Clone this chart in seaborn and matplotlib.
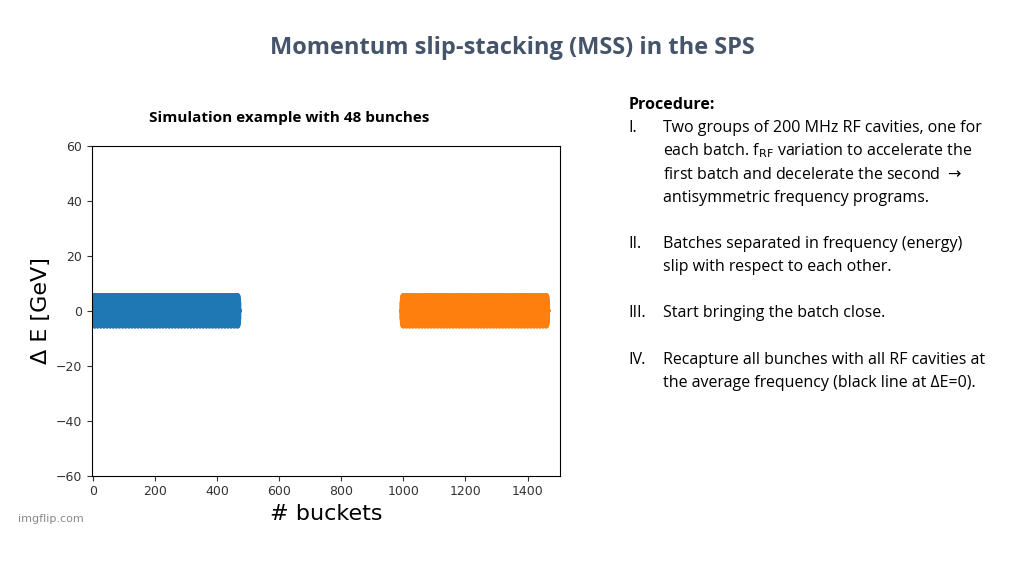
import numpy as np
import pandas as pd
import matplotlib
matplotlib.use("Agg")
import matplotlib.pyplot as plt
import seaborn as sns

batch1_centers = [5 + 10 * i for i in range(47)]
batch2_centers = [1000 + 10 * i for i in range(47)]
bunch_half_len = 5.0   # buckets
bunch_half_dE = 5.5    # GeV

rows = []
for name, centers in [("batch 1", batch1_centers), ("batch 2", batch2_centers)]:
    for c in centers:
        for t in np.linspace(-1, 1, 15):
            h = np.sqrt(1 - t**2)
            for s in np.linspace(-1, 1, 11):
                rows.append((name, c + t * bunch_half_len, s * h * bunch_half_dE))
df = pd.DataFrame(rows, columns=["batch", "bucket", "dE"])

fig = plt.figure(figsize=(10.24, 5.76), dpi=100)
ax = fig.add_axes([0.09, 0.174, 0.457, 0.573])
sns.scatterplot(data=df, x="bucket", y="dE", hue="batch",
                palette=["#1f77b4", "#ff7f0e"], s=14, linewidth=0,
                legend=False, ax=ax)
ax.set_xlim(-3, 1505)
ax.set_ylim(-60, 60)
ax.set_xticks([0, 200, 400, 600, 800, 1000, 1200, 1400])
ax.set_yticks([-60, -40, -20, 0, 20, 40, 60])
ax.set_yticklabels(["\u221260", "\u221240", "\u221220", "0", "20", "40", "60"])
ax.tick_params(labelsize=9, colors="#333333")
ax.set_xlabel("# buckets", fontsize=16)
ax.set_ylabel("\u0394 E [GeV]", fontsize=16)

fig.text(0.5, 0.907, "Momentum slip-stacking (MSS) in the SPS", ha="center",
         fontsize=17, fontweight="bold", color="#44546A", family="Open Sans")
fig.text(0.282, 0.788, "Simulation example with 48 bunches", ha="center",
         fontsize=11, fontweight="bold", family="Open Sans")
fig.text(0.018, 0.093, "imgflip.com", fontsize=8, color="#888888")

fs = 11.5
fam = "Open Sans"
x0, x1 = 0.614, 0.647
fig.text(x0, 0.81, "Procedure:", fontsize=fs, fontweight="bold", family=fam)
items = [
    (0.77, "I.", ["Two groups of 200 MHz RF cavities, one for",
                  "each batch. f$_{\\mathrm{RF}}$ variation to accelerate the",
                  "first batch and decelerate the second $\\rightarrow$",
                  "antisymmetric frequency programs."]),
    (0.57, "II.", ["Batches separated in frequency (energy)",
                   "slip with respect to each other."]),
    (0.45, "III.", ["Start bringing the batch close."]),
    (0.368, "IV.", ["Recapture all bunches with all RF cavities at",
                    "the average frequency (black line at \u0394E=0)."]),
]
for y, num, lines in items:
    fig.text(x0, y, num, fontsize=fs, family=fam)
    for k, line in enumerate(lines):
        fig.text(x1, y - k * 0.04, line, fontsize=fs, family=fam)

fig.savefig("out.png", dpi=100)
